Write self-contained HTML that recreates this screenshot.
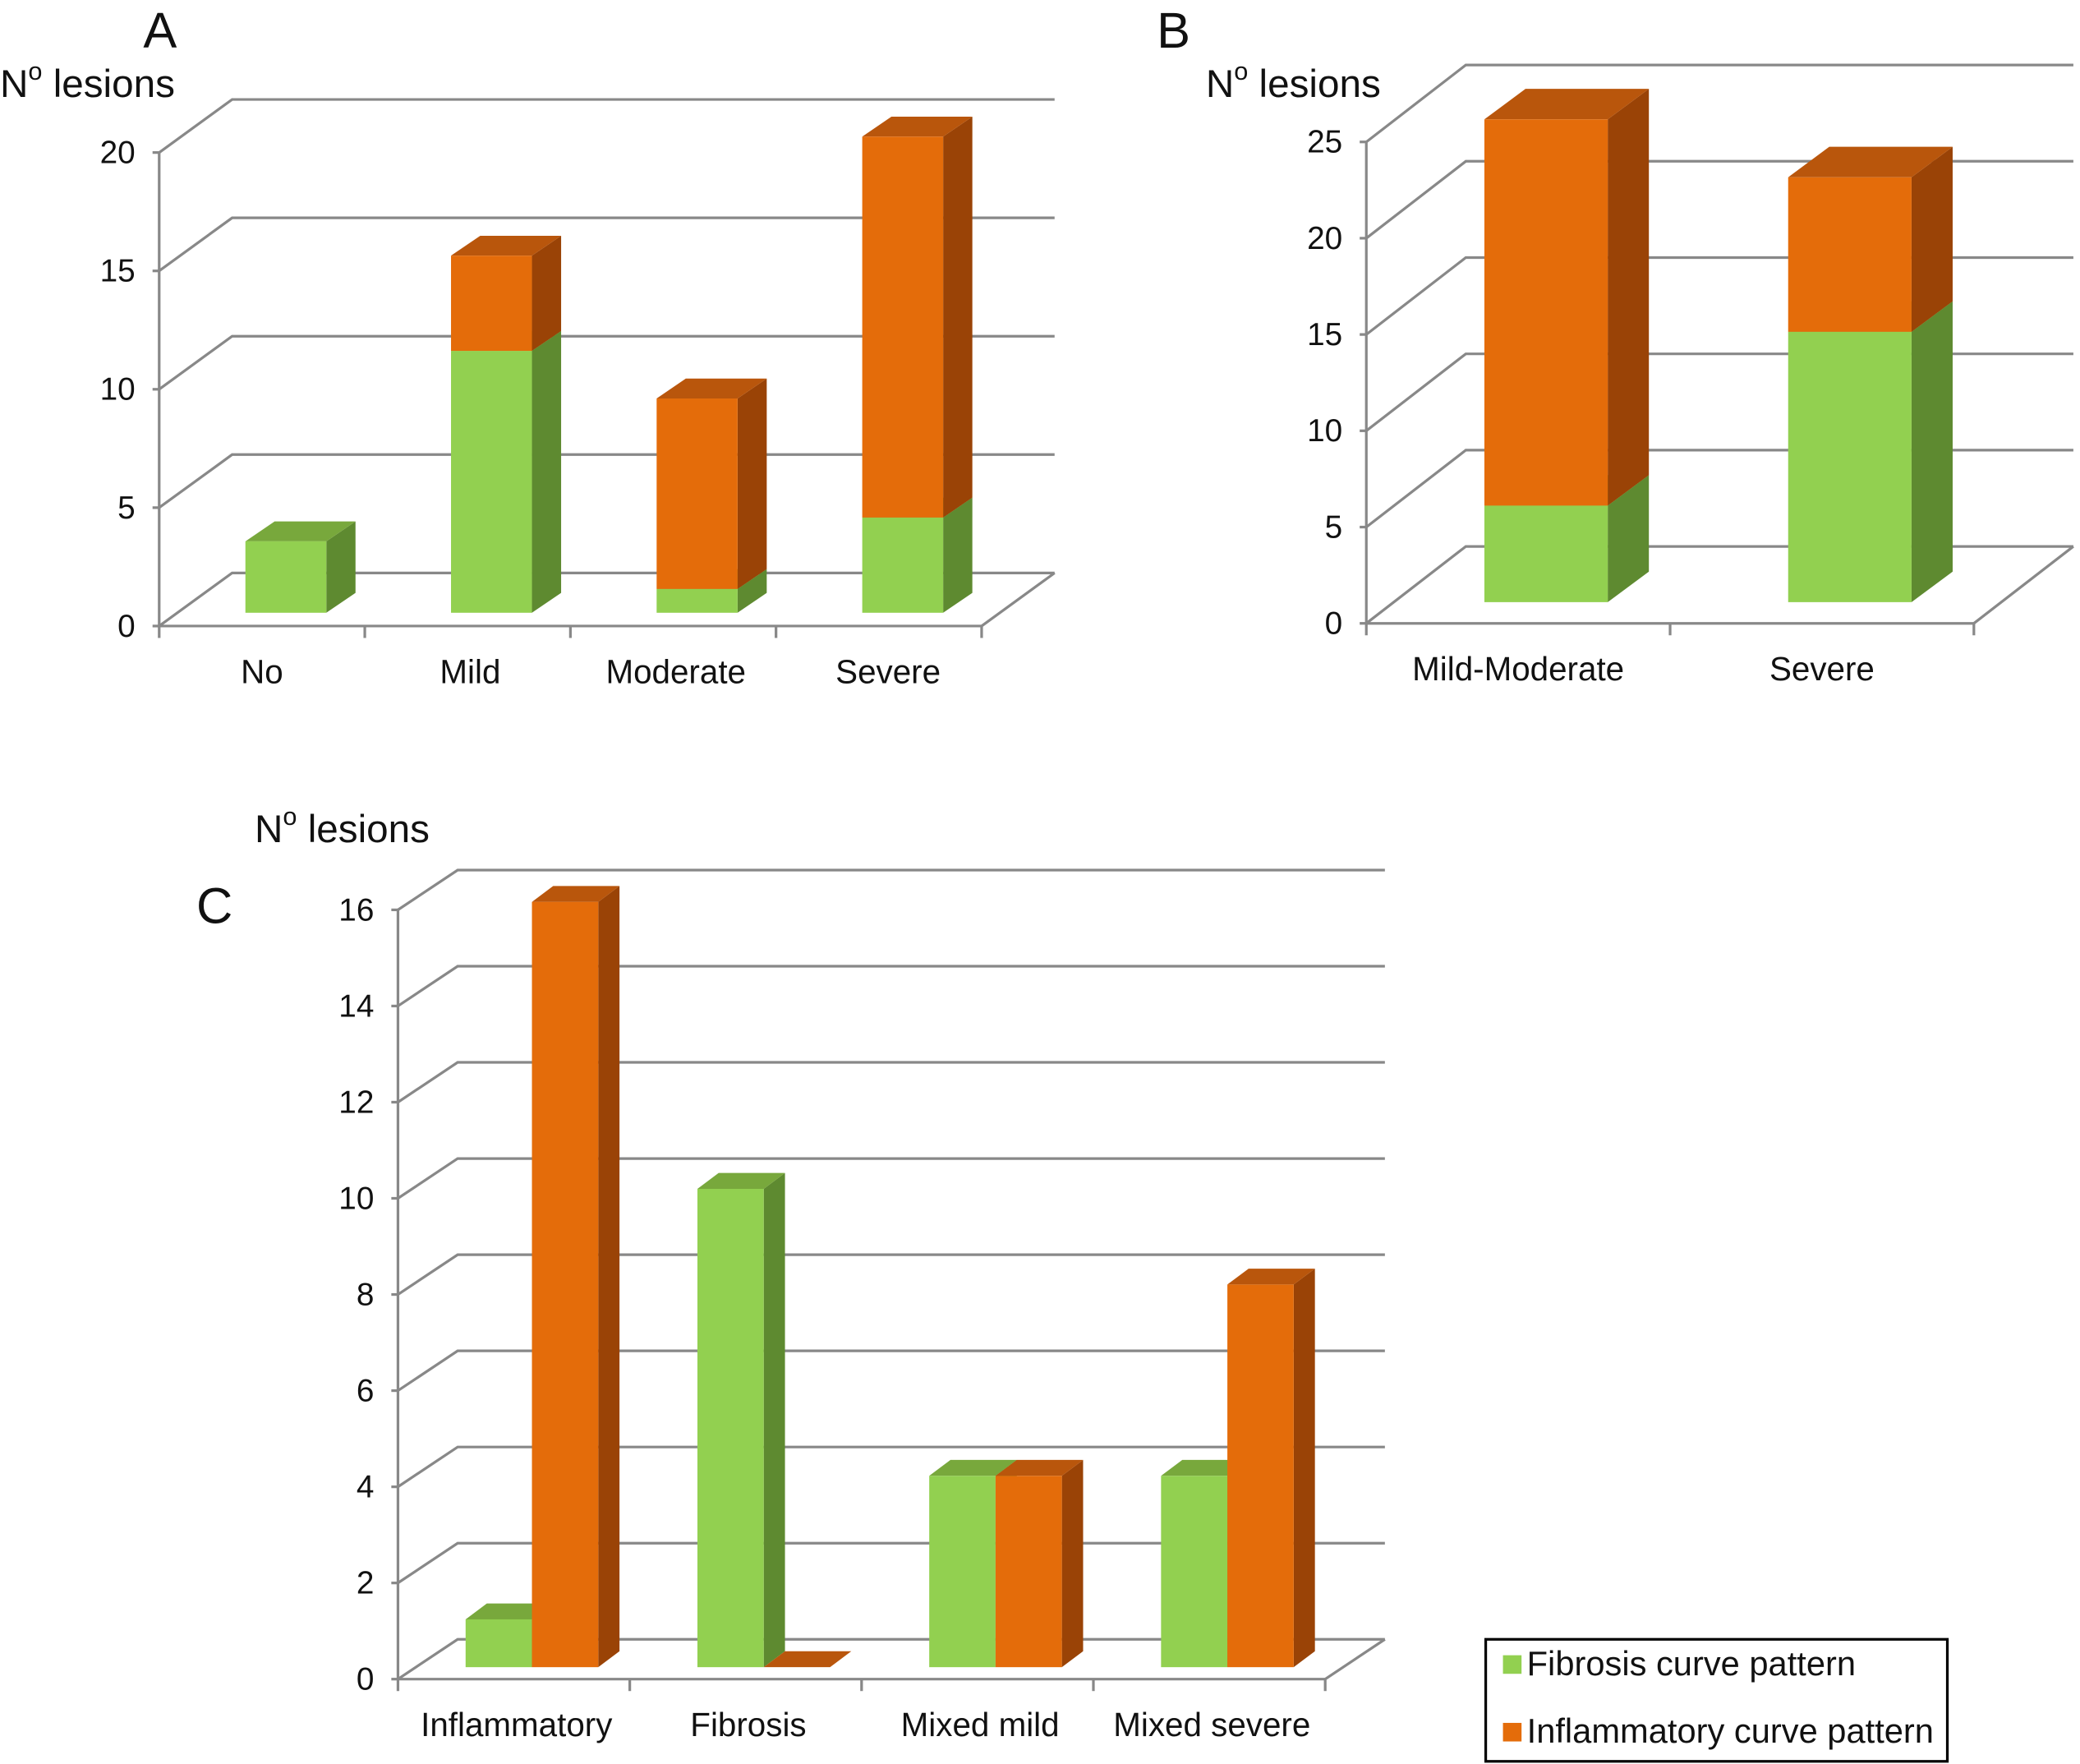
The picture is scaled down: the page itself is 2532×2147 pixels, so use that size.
<!DOCTYPE html>
<html><head><meta charset="utf-8"><style>
html,body{margin:0;padding:0;background:#fff}
svg{display:block}
text{font-family:"Liberation Sans",Arial,sans-serif;fill:#111}
</style></head><body>
<svg id="s" width="2532" height="2147" viewBox="0 0 1568 1330" preserveAspectRatio="none" xmlns="http://www.w3.org/2000/svg"></svg>
<script>
// Panel A data
const aCats=["No","Mild","Moderate","Severe"];
const aFib=[3,11,1,4];
const aInf=[0,4,8,16];
const aTicks=[0,5,10,15,20];
// Panel B data
const bCats=["Mild-Moderate","Severe"];
const bFib=[5,14];
const bInf=[20,8];
const bTicks=[0,5,10,15,20,25];
// Panel C data
const cCats=["Inflammatory","Fibrosis","Mixed mild","Mixed severe"];
const cFib=[1,10,4,4];
const cInf=[16,0,4,8];
const cTicks=[0,2,4,6,8,10,12,14,16];

const S=document.getElementById('s');const NS="http://www.w3.org/2000/svg";
function el(t,a,p){const e=document.createElementNS(NS,t);for(const k in a)e.setAttribute(k,a[k]);(p||S).appendChild(e);return e;}
const G={f:"#92d050",s:"#5e8a30",t:"#78a83c"},O={f:"#e46c0a",s:"#9a4306",t:"#b9560c"};
function box(x,w,yb,yt,dx,dy,c,g,name){
  const gr=el('g',{},g);
  
  
  el('polygon',{points:`${x+w},${yb} ${x+w+dx},${yb+dy} ${x+w+dx},${yt+dy} ${x+w},${yt}`,fill:c.s},gr);
  el('polygon',{points:`${x},${yt} ${x+dx},${yt+dy} ${x+w+dx},${yt+dy} ${x+w},${yt}`,fill:c.t},gr);
  if(yb-yt>0)el('rect',{x:x,y:yt,width:w,height:yb-yt,fill:c.f},gr);
}
function panel(o){
  const g=el('g',{});
  
  
  const max=o.ticks[o.ticks.length-1];
  const fy=v=>o.y0-(o.y0-o.ytop)*v/max;
  const ln={stroke:"#888","stroke-width":2,fill:"none"};
  o.ticks.forEach(v=>{const y=fy(v);
    el('polyline',Object.assign({points:`${o.x0},${y} ${o.x0+o.dx},${y+o.dy} ${o.xr+o.dx},${y+o.dy}`},ln),g);
    el('line',{x1:o.x0-5,y1:y,x2:o.x0,y2:y,stroke:"#888","stroke-width":2},g);
    const t=el('text',{x:o.x0-18,y:y+8,"text-anchor":"end","font-size":24},g);t.textContent=v;
    
    
  });
  el('line',Object.assign({x1:o.x0,y1:o.y0,x2:o.x0,y2:o.ytop},ln),g);
  el('line',Object.assign({x1:o.x0,y1:o.y0,x2:o.xr,y2:o.y0},ln),g);
  el('line',Object.assign({x1:o.xr,y1:o.y0,x2:o.xr+o.dx,y2:o.y0+o.dy},ln),g);
  const n=o.cats.length,cw=(o.xr-o.x0)/n;
  for(let i=0;i<=n;i++){const x=o.x0+i*cw;el('line',{x1:x,y1:o.y0,x2:x,y2:o.y0+9,stroke:"#888","stroke-width":2},g);}
  const u=(o.bb-o.btop)/max;
  o.cats.forEach((c,i)=>{
    const t=el('text',{x:o.x0+cw*(i+0.5)+o.lx+(o.lxs?o.lxs[i]:0),y:o.y0+43,"text-anchor":"middle","font-size":25},g);t.textContent=c;
    
    
    const bx=o.x0+cw*i+o.bo;
    if(o.stack){
      const y1=o.bb-o.fib[i]*u,y2=y1-o.inf[i]*u;
      box(bx,o.bw,o.bb,y1,o.bdx,o.bdy,G,g,'bar-fibrosis-'+i);
      if(o.inf[i]>0)box(bx,o.bw,y1,y2,o.bdx,o.bdy,O,g,'bar-inflammatory-'+i);
    }else{
      box(bx,o.bw,o.bb,o.bb-o.fib[i]*u,o.bdx,o.bdy,G,g,'bar-fibrosis-'+i);
      box(bx+o.bw,o.bw,o.bb,o.bb-o.inf[i]*u,o.bdx,o.bdy,O,g,'bar-inflammatory-'+i);
    }
  });
  return g;
}
panel({name:'panel-a',cats:aCats,fib:aFib,inf:aInf,ticks:aTicks,x0:120,xr:740,y0:472,ytop:115,dx:55,dy:-40,bb:462,btop:103,bo:65,bw:61,bdx:22,bdy:-15,stack:true,lx:0,lxs:[0,2,2,7]});
panel({name:'panel-b',cats:bCats,fib:bFib,inf:bInf,ticks:bTicks,x0:1030,xr:1488,y0:470,ytop:107,dx:75,dy:-58,bb:454,btop:90,bo:89,bw:93,bdx:31,bdy:-23,stack:true,lx:0});
panel({name:'panel-c',cats:cCats,fib:cFib,inf:cInf,ticks:cTicks,x0:300,xr:999,y0:1266,ytop:686,dx:45,dy:-30,bb:1257,btop:680,bo:51,bw:50,bdx:16,bdy:-12,stack:false,lx:2});
function txt(x,y,s,fs,name){const t=el('text',{x:x,y:y,"font-size":fs});t.textContent=s;
  
  }
txt(108,36,"A",38,'panel-a-letter');txt(872,36,"B",38,'panel-b-letter');txt(148,696,"C",38,'panel-c-letter');
function ylab(x,y,name){const t=el('text',{x:x,y:y,"font-size":29.5});t.innerHTML='N<tspan dy="-13" font-size="19">o</tspan><tspan dy="13"> lesions</tspan>';
  
  }
ylab(0,73,'panel-a-y-title');ylab(909,73,'panel-b-y-title');ylab(192,635,'panel-c-y-title');
const lg=el('g',{});


el('rect',{x:1120,y:1236,width:348,height:92,fill:"#fff",stroke:"#000","stroke-width":2},lg);
el('rect',{x:1133,y:1248,width:14,height:14,fill:G.f},lg);
el('rect',{x:1133,y:1299,width:14,height:14,fill:O.f},lg);
const l1=el('text',{x:1151,y:1263,"font-size":25.8},lg);l1.textContent="Fibrosis curve pattern";


const l2=el('text',{x:1151,y:1314,"font-size":25.8},lg);l2.textContent="Inflammatory curve pattern";


</script>
</body></html>
